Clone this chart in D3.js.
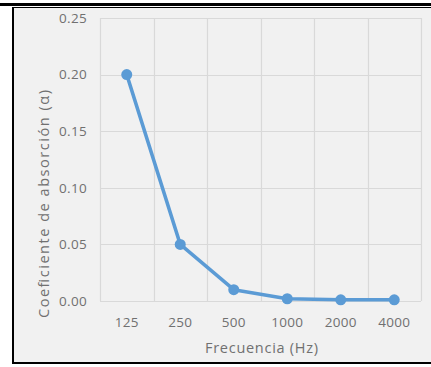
<!DOCTYPE html>
<html><head><meta charset="utf-8">
<script src="https://cdn.jsdelivr.net/npm/d3@7"></script>
<style>body{margin:0;background:#fff}svg{display:block}</style>
</head><body>
<script>
const categories = ["125","250","500","1000","2000","4000"];
const values = [0.20, 0.05, 0.01, 0.002, 0.001, 0.001];
const yTicks = [0, 0.05, 0.10, 0.15, 0.20, 0.25];
const xTitle = "Frecuencia (Hz)";
const yTitle = "Coeficiente de absorción (α)";

(function(){
const W = 431, H = 367;
const svg = d3.select("body").append("svg").attr("width", W).attr("height", H);
const font = "'Open Sans', 'Liberation Sans', sans-serif";
const txt = "#707070";

svg.append("rect").attr("x",13).attr("y",7).attr("width",W-13).attr("height",356).attr("fill","#f1f1f1");
svg.append("rect").attr("x",0).attr("y",3).attr("width",W).attr("height",3).attr("fill","#000");
svg.append("rect").attr("x",12).attr("y",7).attr("width",W-12).attr("height",1).attr("fill","#000");
svg.append("rect").attr("x",12).attr("y",7).attr("width",2).attr("height",357).attr("fill","#000");
svg.append("rect").attr("x",12).attr("y",362).attr("width",W-12).attr("height",2).attr("fill","#000");

const pL = 100, pR = 421, pT = 18, pB = 301;
const x = d3.scaleBand().domain(categories).range([pL, pR]);
const y = d3.scaleLinear().domain([0, 0.25]).range([pB, pT]);

const g = svg.append("g");
g.selectAll(".hg").data(yTicks).join("line")
  .attr("x1", pL).attr("x2", pR)
  .attr("y1", d => Math.round(y(d))+0.5).attr("y2", d => Math.round(y(d))+0.5)
  .attr("stroke", "#d9d9d9").attr("stroke-width", 1.2);
const bounds = categories.map(c => x(c)).concat([x.range()[1]]);
g.selectAll(".vg").data(bounds).join("line")
  .attr("x1", d => Math.round(d)+0.5).attr("x2", d => Math.round(d)+0.5)
  .attr("y1", pT).attr("y2", pB)
  .attr("stroke", "#d9d9d9").attr("stroke-width", 1.2);

const yAxis = d3.axisLeft(y).tickValues(yTicks).tickFormat(d3.format(".2f")).tickSize(0).tickPadding(13);
const ya = svg.append("g").attr("transform", `translate(${pL},0)`).call(yAxis);
ya.select(".domain").remove();
ya.selectAll("text").attr("fill",txt).style("font-family",font).style("font-size","13.5px").style("letter-spacing","0.3px");

const xAxis = d3.axisBottom(x).tickSize(0).tickPadding(16);
const xa = svg.append("g").attr("transform", `translate(0,${pB})`).call(xAxis);
xa.select(".domain").remove();
xa.selectAll("text").attr("fill",txt).style("font-family",font).style("font-size","13.5px").style("letter-spacing","0.3px");

svg.append("text").attr("x", 205).attr("y", 353)
  .attr("textLength", 113).attr("lengthAdjust","spacing")
  .attr("fill",txt).style("font-family",font).style("font-size","14.5px").text(xTitle);
svg.append("text").attr("transform", `translate(49,318) rotate(-90)`)
  .attr("textLength", 228).attr("lengthAdjust","spacing")
  .attr("fill",txt).style("font-family",font).style("font-size","14.5px").text(yTitle);

const line = d3.line().x((d,i) => x(categories[i]) + x.bandwidth()/2).y(d => y(d));
svg.append("path").datum(values).attr("d", line).attr("fill","none")
  .attr("stroke","#5b9bd5").attr("stroke-width",3.5).attr("stroke-linejoin","round");
svg.selectAll(".pt").data(values).join("circle")
  .attr("cx", (d,i) => x(categories[i]) + x.bandwidth()/2).attr("cy", d => y(d))
  .attr("r", 5.5).attr("fill","#5b9bd5");
})();
</script>
</body></html>
